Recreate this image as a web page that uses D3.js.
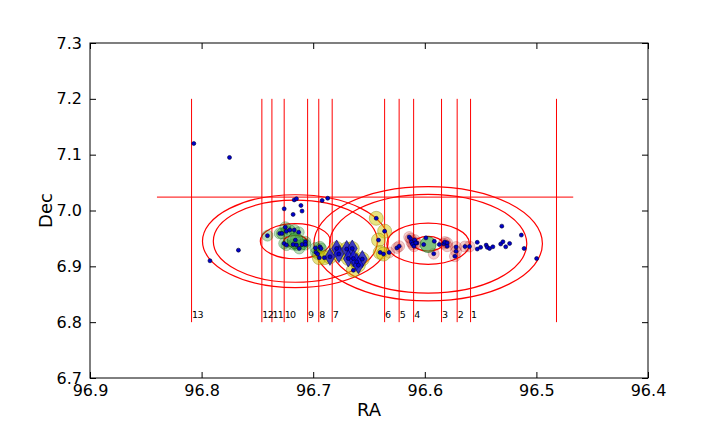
<!DOCTYPE html>
<html><head><meta charset="utf-8">
<script src="https://cdn.jsdelivr.net/npm/d3@7"></script>
<style>body{margin:0;background:#fff;}svg{display:block;font-family:"DejaVu Sans",sans-serif;}</style>
</head><body>
<script>
// ---- data ----
const xTicks = [96.9, 96.8, 96.7, 96.6, 96.5, 96.4];
const yTicks = [6.7, 6.8, 6.9, 7.0, 7.1, 7.2, 7.3];
const lineRA = [96.559, 96.571, 96.585, 96.610, 96.623, 96.636, 96.683, 96.695, 96.705, 96.726, 96.737, 96.746, 96.809, 96.482];
const lineLabels = ["1","2","3","4","5","6","7","8","9","10","11","12","13",""];
const lineDecRange = [6.8, 7.2];
const hLineDec = 7.024;
const hLineRA = [96.84, 96.467];
const circleCenters = [[96.716, 6.945], [96.597, 6.9405]];
const circleRadiiLeft = [0.0104, 0.0314, 0.0735, 0.0832];
const circleRadiiRight = [0.013, 0.037, 0.0884, 0.1024];
const plainPts = [
 [96.807,7.120],[96.775,7.095],[96.767,6.929],[96.7925,6.910],
 [96.717,7.019],[96.715,7.021],[96.692,7.018],[96.687,7.022],
 [96.726,7.003],[96.711,7.009],[96.710,6.999],[96.718,6.993],
 [96.599,6.951],[96.607,6.942],[96.601,6.939],[96.5915,6.945],[96.587,6.939],
 [96.553,6.943],[96.553,6.931],[96.550,6.934],[96.545,6.938],[96.544,6.934],
 [96.542,6.932],[96.539,6.935],[96.531,6.972],[96.532,6.940],[96.530,6.944],
 [96.5275,6.935],[96.524,6.941],[96.5135,6.956],[96.511,6.932],[96.4998,6.914]
];
const greenPts = [
 [96.741,6.955],[96.730,6.959],[96.728,6.959],[96.725,6.970],[96.724,6.963],
 [96.721,6.965],[96.717,6.965],[96.713,6.961],[96.726,6.941],[96.724,6.938],
 [96.718,6.939],[96.715,6.938],[96.710,6.939],[96.7125,6.932],[96.707,6.944],
 [96.707,6.939],[96.716,6.947],
 [96.698,6.933],[96.694,6.935],[96.6975,6.925],[96.696,6.922],[96.693,6.932]
];
const yellowPts = [
 [96.6945,6.9155],[96.690,6.9155],[96.664,6.893],[96.6435,6.986],
 [96.636,6.963],[96.6415,6.947],[96.640,6.925],[96.637,6.922]
];
const diamondPts = [
 [96.685,6.917],[96.679,6.932],[96.677,6.922],[96.670,6.931],[96.665,6.932],
 [96.6685,6.914],[96.664,6.914],[96.661,6.908],[96.656,6.913],[96.6595,6.902]
];
const pinkPts = [
 [96.632,6.925],[96.625,6.933],[96.623,6.936],[96.614,6.9525],[96.6127,6.9495],
 [96.612,6.9436],[96.611,6.9395],[96.6097,6.936],[96.609,6.947],[96.608,6.942],
 [96.592,6.9226],[96.583,6.9406],[96.582,6.9436],[96.580,6.942],[96.580,6.936],
 [96.572,6.9346],[96.572,6.927],[96.573,6.918],[96.564,6.9355],[96.560,6.9355]
];
const bigCenters = [[96.716,6.946],[96.597,6.939]];

// ---- layout ----
const W = 720, H = 432;
const m = {l:90, r:72, t:43, b:54};
const svg = d3.select("body").append("svg").attr("width", W).attr("height", H);
const x = d3.scaleLinear().domain([96.9, 96.4]).range([m.l, W - m.r]);
const y = d3.scaleLinear().domain([6.7, 7.3]).range([H - m.b, m.t]);

const g = svg.append("g");
g.append("defs").append("clipPath").attr("id","clip")
 .append("rect").attr("x", m.l).attr("y", m.t).attr("width", W-m.l-m.r).attr("height", H-m.t-m.b);
const plot = g.append("g").attr("clip-path","url(#clip)");

// vertical lines
plot.selectAll("line.v").data(lineRA).enter().append("line")
 .attr("x1", d=>x(d)).attr("x2", d=>x(d))
 .attr("y1", y(lineDecRange[0])).attr("y2", y(lineDecRange[1]))
 .attr("stroke","#ff0000").attr("stroke-width",1);
// horizontal line
plot.append("line").attr("x1", x(hLineRA[0])).attr("x2", x(hLineRA[1]))
 .attr("y1", y(hLineDec)).attr("y2", y(hLineDec))
 .attr("stroke","#ff0000").attr("stroke-width",1);
// labels
plot.selectAll("text.lab").data(lineRA).enter().append("text")
 .attr("x", d=>x(d)+0.5).attr("y", y(6.8)-4)
 .attr("font-size", 9.5).attr("letter-spacing", "-0.6px").attr("fill","#000")
 .text((d,i)=>lineLabels[i]);

// ellipses (circles in data space)
function drawCircles(c, radii){
  plot.selectAll(null).data(radii).enter().append("ellipse")
   .attr("cx", x(c[0])).attr("cy", y(c[1]))
   .attr("rx", r=>Math.abs(x(c[0]+r)-x(c[0])))
   .attr("ry", r=>Math.abs(y(c[1]+r)-y(c[1])))
   .attr("fill","none").attr("stroke","#ff0000").attr("stroke-width",1.2);
}
drawCircles(circleCenters[0], circleRadiiLeft);
drawCircles(circleCenters[1], circleRadiiRight);

// halos
plot.selectAll(null).data(greenPts).enter().append("circle")
 .attr("cx", d=>x(d[0])).attr("cy", d=>y(d[1])).attr("r", 5.5)
 .attr("fill","rgba(0,128,0,0.28)").attr("stroke","rgba(0,90,0,0.35)").attr("stroke-width",0.8);
plot.selectAll(null).data(pinkPts).enter().append("circle")
 .attr("cx", d=>x(d[0])).attr("cy", d=>y(d[1])).attr("r", 5.5)
 .attr("fill","rgba(200,0,0,0.2)").attr("stroke","rgba(150,0,0,0.25)").attr("stroke-width",0.8);
plot.selectAll(null).data(yellowPts.concat(diamondPts)).enter().append("circle")
 .attr("cx", d=>x(d[0])).attr("cy", d=>y(d[1])).attr("r", 7)
 .attr("fill","rgba(210,200,0,0.5)").attr("stroke","rgba(120,110,0,0.45)").attr("stroke-width",0.8);
// big centers
plot.selectAll(null).data(bigCenters).enter().append("circle")
 .attr("cx", d=>x(d[0])).attr("cy", d=>y(d[1])).attr("r", 8)
 .attr("fill","rgba(60,160,60,0.65)").attr("stroke","rgba(0,80,0,0.6)").attr("stroke-width",0.8);
// diamonds
plot.selectAll(null).data(diamondPts).enter().append("path")
 .attr("transform", d=>`translate(${x(d[0])},${y(d[1])})`)
 .attr("d","M0,-8.5L5,0L0,8.5L-5,0Z")
 .attr("fill","rgba(20,20,220,0.8)").attr("stroke","#000060").attr("stroke-width",0.6);
// dots
const dots = plainPts.concat(greenPts, pinkPts, yellowPts, diamondPts);
plot.selectAll(null).data(dots).enter().append("circle")
 .attr("cx", d=>x(d[0])).attr("cy", d=>y(d[1])).attr("r", 2)
 .attr("fill","#0000cc").attr("stroke","#000033").attr("stroke-width",0.6);

// frame
g.append("rect").attr("x", m.l).attr("y", m.t).attr("width", W-m.l-m.r).attr("height", H-m.t-m.b)
 .attr("fill","none").attr("stroke","#000").attr("stroke-width",1);

// axes with inward ticks
const fmt = d3.format(".1f");
const xb = g.append("g").attr("transform",`translate(0,${H-m.b})`)
 .call(d3.axisBottom(x).tickValues(xTicks).tickFormat(fmt).tickSizeInner(-6).tickSizeOuter(0).tickPadding(7));
const xt = g.append("g").attr("transform",`translate(0,${m.t})`)
 .call(d3.axisTop(x).tickValues(xTicks).tickFormat("").tickSizeInner(-6).tickSizeOuter(0));
const yl = g.append("g").attr("transform",`translate(${m.l},0)`)
 .call(d3.axisLeft(y).tickValues(yTicks).tickFormat(fmt).tickSizeInner(-6).tickSizeOuter(0).tickPadding(8));
const yr = g.append("g").attr("transform",`translate(${W-m.r},0)`)
 .call(d3.axisRight(y).tickValues(yTicks).tickFormat("").tickSizeInner(-6).tickSizeOuter(0));
[xb,xt,yl,yr].forEach(a=>{ a.select(".domain").remove(); a.selectAll("text").attr("font-size",16).attr("fill","#000").attr("font-family","DejaVu Sans"); a.selectAll("line").attr("stroke","#000"); });

// axis titles
g.append("text").attr("x", (m.l + W - m.r)/2).attr("y", 416).attr("text-anchor","middle")
 .attr("font-size", 18).text("RA");
g.append("text").attr("transform",`translate(52,${(m.t+H-m.b)/2}) rotate(-90)`).attr("text-anchor","middle")
 .attr("font-size", 18).text("Dec");
</script>
</body></html>
